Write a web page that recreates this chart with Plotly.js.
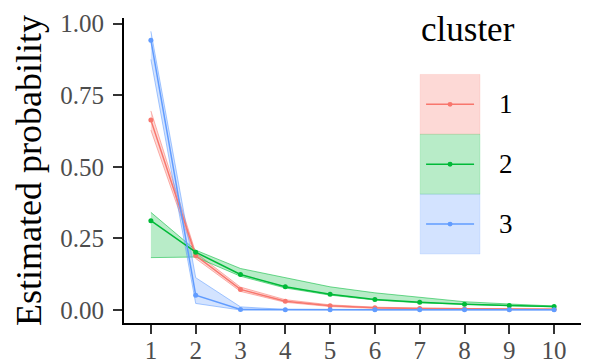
<!DOCTYPE html>
<html>
<head>
<meta charset="utf-8">
<script src="https://cdn.plot.ly/plotly-3.0.1.min.js"></script>
<style>
  html, body { margin: 0; padding: 0; background: #fff; }
  #plot { width: 598px; height: 363px; }
</style>
</head>
<body>
<div id="plot"></div>
<script>
const steps = [1, 2, 3, 4, 5, 6, 7, 8, 9, 10];
const clusters = ['1', '2', '3'];
const colors = ['248,118,109', '0,186,56', '97,156,255'];

// estimated probability per cluster
const est1 = [0.663, 0.190, 0.072, 0.031, 0.015, 0.008, 0.005, 0.004, 0.003, 0.003];
const lo1  = [0.628, 0.180, 0.065, 0.027, 0.012, 0.006, 0.004, 0.003, 0.002, 0.002];
const hi1  = [0.695, 0.200, 0.080, 0.036, 0.018, 0.010, 0.007, 0.005, 0.004, 0.004];

const est2 = [0.312, 0.202, 0.124, 0.081, 0.055, 0.037, 0.027, 0.020, 0.016, 0.012];
const lo2  = [0.183, 0.185, 0.118, 0.077, 0.052, 0.035, 0.025, 0.019, 0.015, 0.011];
const hi2  = [0.341, 0.209, 0.145, 0.114, 0.081, 0.060, 0.044, 0.029, 0.021, 0.014];

const est3 = [0.942, 0.052, 0.002, 0.001, 0.001, 0.001, 0.001, 0.001, 0.001, 0.001];
const lo3  = [0.875, 0.023, 0.000, 0.000, 0.000, 0.000, 0.000, 0.000, 0.000, 0.000];
const hi3  = [0.973, 0.113, 0.011, 0.002, 0.002, 0.002, 0.002, 0.002, 0.002, 0.002];

const yTicks = [0, 0.25, 0.5, 0.75, 1];
const yTickText = ['0.00', '0.25', '0.50', '0.75', '1.00'];

const est = [est1, est2, est3];
const lo = [lo1, lo2, lo3];
const hi = [hi1, hi2, hi3];

const font = 'Liberation Serif';

const traces = [];
// ribbons first
clusters.forEach((c, i) => {
  traces.push({ x: steps, y: lo[i], type: 'scatter', mode: 'lines',
    line: { color: `rgba(${colors[i]},0.55)`, width: 1 }, showlegend: false, hoverinfo: 'skip' });
  traces.push({ x: steps, y: hi[i], type: 'scatter', mode: 'lines', fill: 'tonexty',
    fillcolor: `rgba(${colors[i]},0.28)`,
    line: { color: `rgba(${colors[i]},0.55)`, width: 1 }, showlegend: false, hoverinfo: 'skip' });
});
// estimate lines with points
clusters.forEach((c, i) => {
  traces.push({ x: steps, y: est[i], type: 'scatter', mode: 'lines+markers', name: c,
    line: { color: `rgb(${colors[i]})`, width: 1.5 },
    marker: { color: `rgb(${colors[i]})`, size: 5 }, showlegend: false });
});

// manual legend drawn in paper coords
const shapes = [];
const annotations = [{
  xref: 'paper', yref: 'paper', x: 0.645, y: 0.962, xanchor: 'left', yanchor: 'middle',
  text: 'cluster', showarrow: false, font: { family: font, size: 35, color: '#000' }
}];
const keyX0 = 0.648, keyX1 = 0.779;   // 420..480 px
clusters.forEach((c, i) => {
  const y1 = 0.815 - i * 0.1963, y0 = y1 - 0.1963;
  const ym = (y0 + y1) / 2;
  shapes.push({ type: 'rect', xref: 'paper', yref: 'paper', x0: keyX0, x1: keyX1, y0: y0, y1: y1,
    fillcolor: `rgba(${colors[i]},0.28)`, line: { color: `rgba(${colors[i]},0.15)`, width: 1 } });
  shapes.push({ type: 'line', xref: 'paper', yref: 'paper', x0: keyX0 + 0.013, x1: keyX1 - 0.013, y0: ym, y1: ym,
    line: { color: `rgb(${colors[i]})`, width: 1.5 } });
  shapes.push({ type: 'circle', xref: 'paper', yref: 'paper', x0: 0.7135 - 0.0055, x1: 0.7135 + 0.0055,
    y0: ym - 0.008, y1: ym + 0.008, fillcolor: `rgb(${colors[i]})`, line: { width: 0 } });
  annotations.push({ xref: 'paper', yref: 'paper', x: 0.835, y: ym, xanchor: 'center', yanchor: 'middle',
    text: c, showarrow: false, font: { family: font, size: 27, color: '#000' } });
});

const layout = {
  width: 598, height: 363,
  margin: { l: 123.5, r: 17, t: 17.7, b: 40 },
  paper_bgcolor: '#fff', plot_bgcolor: '#fff',
  showlegend: false,
  font: { family: font },
  xaxis: {
    range: [0.4, 10.6], tickvals: steps, ticks: 'outside', ticklen: 9, tickwidth: 2, tickcolor: '#333',
    showline: true, linewidth: 2, linecolor: '#000', showgrid: false, zeroline: false,
    ticklabelstandoff: -5,
    tickfont: { family: font, size: 25, color: '#4d4d4d' }
  },
  yaxis: {
    range: [-0.0453, 1.0195], tickvals: yTicks, ticktext: yTickText, ticks: 'outside', ticklen: 9,
    tickwidth: 2, tickcolor: '#333', showline: true, linewidth: 2, linecolor: '#000',
    showgrid: false, zeroline: false, ticklabelstandoff: 4,
    tickfont: { family: font, size: 25, color: '#4d4d4d' },
    title: { text: 'Estimated probability', font: { family: font, size: 36, color: '#000' } }
  },
  shapes: shapes,
  annotations: annotations
};

Plotly.newPlot('plot', traces, layout, { staticPlot: true });
</script>
</body>
</html>
